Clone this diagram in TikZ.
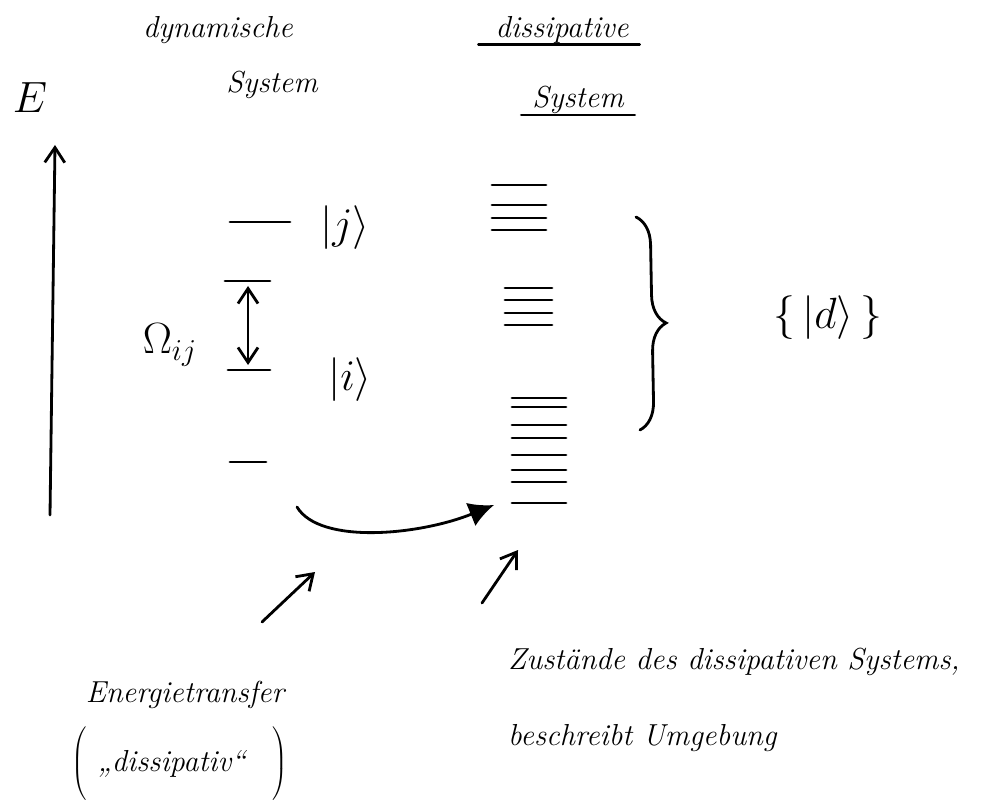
\documentclass[tikz,border=0pt]{standalone}
\usetikzlibrary{arrows.meta,decorations.pathreplacing,calc}

\begin{document}
\begin{tikzpicture}[x=0.02cm, y=-0.02cm, line width=1.6pt, line cap=round,
    hand/.style={font=\LARGE\itshape, inner sep=1pt},
    ket/.style={font=\huge, inner sep=1pt, scale=1.2},
    level/.style={line width=1.6pt, line cap=round},
    barb/.style={-{Straight Barb[length=3mm,width=4mm]}}]
    \useasboundingbox (0,0) rectangle (993,807);
    % headings
    \node[hand](dyn)at(218,30){dynamische};
    \node[hand](dynsys)at(272,85){System};
    \node[hand](dis)at(562,30){dissipative};
    \node[hand](dissys)at(578,100){System};
    \path[draw, level]($(dis.south west)+(-14,-2)$)to($(dis.south east)+(8,-2)$);
    \path[draw, level]($(dissys.south west)+(-8,-2)$)to($(dissys.south east)+(8,-2)$);
    % axis
    \node[ket](E)at(30,98){$E$};
    \coordinate(e0)at(50,515);
    \coordinate(e1)at(55,145);
    \path[draw, barb](e0)to(e1);
    % levels of the dynamic system
    \path[draw, level](230,222)to(290,222);
    \path[draw, level](225,281)coordinate(lj)to(270,281);
    \path[draw, level](228,370)coordinate(li)to(270,370);
    \path[draw, level](230,462)to(266,462);
    \node[ket](ketj)at(345,228){$|j\rangle$};
    \node[ket](keti)at(350,380){$|i\rangle$};
    \coordinate(wa)at(248,286);
    \coordinate(wb)at(248,365);
    \path[draw, {Straight Barb[length=3mm,width=4mm]}-{Straight Barb[length=3mm,width=4mm]}](wa)to(wb);
    \node[ket](omega)at(170,345){$\Omega_{ij}$};
    % dissipative bands
    \foreach \y in {185,205,218,230}
        \path[draw, level](492,\y)to(546,\y);
    \foreach \y in {288,300,313,325}
        \path[draw, level](505,\y)to(552,\y);
    \foreach \y in {398,407,425,438,455,470,482,503}
        \path[draw, level](512,\y)to(566,\y);
    % brace
    \coordinate(b0)at(636,217);
    \coordinate(b1)at(640,430);
    \path[draw, decorate, decoration={brace, amplitude=16pt}](b0)to(b1);
    \node[ket](setd)at(828,318){$\bigl\{\,|d\rangle\,\bigr\}$};
    % transfer
    \coordinate(ts)at(297,507);
    \coordinate(te)at(494,505);
    \path[draw, -{Latex[length=5mm,width=5mm]}](ts)..controls(320,545)and(420,535)..(te);
    \coordinate(a0)at(262,622);
    \coordinate(a1)at(315,572);
    \path[draw, barb](a0)to(a1);
    \coordinate(c0)at(482,603);
    \coordinate(c1)at(518,550);
    \path[draw, barb](c0)to(c1);
    % notes
    \node[hand](transfer)at(185,695){Energietransfer};
    \node[hand](dissnote)at(180,765){$\left(\rule[-18pt]{0pt}{40pt}\right.$\;„dissipativ“\;\;\;$\left.\rule[-18pt]{0pt}{40pt}\right)$};
    \node[hand, anchor=west](zust)at(505,662){Zustände des dissipativen Systems,};
    \node[hand, anchor=west](umg)at(505,738){beschreibt Umgebung};
\end{tikzpicture}
\end{document}
